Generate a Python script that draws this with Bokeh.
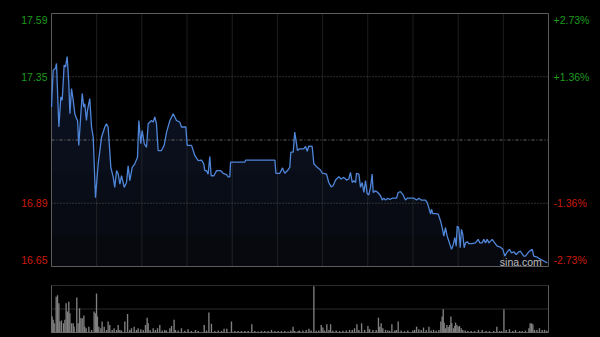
import numpy as np
from bokeh.plotting import figure
from bokeh.models import Range1d
from bokeh.core.properties import value
from bokeh.embed import file_html
from bokeh.resources import INLINE

# ---------------- data ----------------
prev_close = 17.12
max_pct = 2.73
left_labels = ["17.59", "17.35", "16.89", "16.65"]
right_labels = ["+2.73%", "+1.36%", "-1.36%", "-2.73%"]
session_minutes = 330          # 09:30-12:00 + 13:00-16:00
grid_minutes = [30, 60, 90, 120, 150, 180, 210, 240, 270, 300]

min_a = [0, 1.1, 2.7, 3.3, 4.9, 6.2, 7.1, 8.4, 9.3, 10.4, 11.5, 12.2, 13.3, 14.4, 15.5, 16.6,
         17.3, 18.1, 20.4, 21.4, 22.1, 23.2, 23.9, 25.4, 26.6, 27.7, 29.2, 31.0, 32.1, 33.2,
         35.4, 36.5, 37.6, 39.4, 41.0, 42.0, 43.2, 44.3, 45.4, 46.5, 48.3, 49.8, 50.9, 52.0,
         53.6, 55.3, 57.1, 58.0, 59.3, 60.2, 61.6, 63.1, 64.2, 66.4, 67.5, 68.6, 69.7, 70.8,
         73.0, 74.8, 76.4, 78.6, 80.8, 83.0]
px_a = [17.242, 17.378, 17.385, 17.403, 17.168, 17.279, 17.267, 17.397, 17.390, 17.428,
        17.329, 17.217, 17.310, 17.267, 17.217, 17.199, 17.192, 17.100, 17.292, 17.242,
        17.254, 17.192, 17.230, 17.273, 17.168, 17.130, 16.907, 17.032, 17.081, 17.130,
        17.168, 17.180, 17.168, 17.019, 16.982, 16.945, 17.007, 16.994, 16.957, 16.988,
        16.945, 16.963, 17.025, 16.970, 17.019, 17.032, 17.056, 17.192, 17.106, 17.155,
        17.106, 17.093, 17.180, 17.192, 17.186, 17.205, 17.180, 17.081, 17.081, 17.100,
        17.149, 17.192, 17.217, 17.192]

min_b = [85.2, 86.3, 89.2, 90.1, 93.0, 95.2, 97.4, 99.6, 101.1, 101.8, 102.9, 104.0, 105.1,
         106.0, 107.8, 109.6, 112.2, 114.0, 116.2, 117.3, 118.4, 118.9, 128.3, 129.0, 148.3,
         149.0, 151.6, 153.4, 154.9, 156.7, 158.2, 158.9, 160.5, 161.5, 162.7, 163.3, 164.5,
         166.0]
px_b = [17.186, 17.168, 17.168, 17.100, 17.100, 17.062, 17.044, 17.046, 17.032, 17.007,
        17.007, 16.994, 17.059, 16.988, 16.988, 17.007, 17.007, 16.997, 16.992, 16.984,
        16.984, 17.038, 17.038, 17.046, 17.046, 16.997, 16.997, 17.017, 16.997, 17.007,
        17.019, 17.075, 17.075, 17.149, 17.106, 17.081, 17.087, 17.087]

min_c = [167.5, 168.7, 169.8, 170.8, 173.1, 174.2, 176.4, 178.6, 179.7, 182.6, 184.1, 185.7,
         187.0, 188.6, 190.8, 192.3, 194.1, 195.9, 197.4, 198.5, 199.7, 200.7, 201.9, 202.5,
         204.1, 205.2, 206.3, 207.4, 208.5, 209.6, 210.7, 211.8, 212.9, 213.6, 215.1, 216.7,
         218.5, 219.6, 220.6, 221.8, 223.3, 224.6, 226.2, 229.1, 230.2, 231.7, 233.5, 235.0,
         236.2, 240.6, 242.4, 243.9, 245.5, 248.3]
px_c = [17.087, 17.096, 17.078, 17.097, 17.096, 17.032, 17.019, 17.009, 16.998, 16.994,
        16.963, 16.947, 16.951, 16.972, 16.984, 16.976, 16.982, 16.972, 16.976, 17.000,
        16.963, 16.970, 16.963, 16.997, 16.994, 16.945, 16.963, 16.926, 16.970, 16.922,
        16.917, 16.945, 16.994, 16.926, 16.932, 16.926, 16.914, 16.898, 16.905, 16.898,
        16.905, 16.900, 16.905, 16.905, 16.926, 16.929, 16.917, 16.898, 16.905, 16.905,
        16.898, 16.905, 16.898, 16.898]

min_d = [249.5, 250.5, 251.7, 252.3, 253.2, 255.0, 256.8, 258.3, 259.4, 260.5, 261.6, 262.7,
         263.8, 265.6, 266.5, 267.8, 268.7, 269.4, 270.4, 271.4, 272.2, 273.1, 274.0, 274.9,
         276.0, 277.1, 279.3, 281.5, 283.3, 284.4, 286.0, 287.0, 288.2, 289.3, 290.4, 292.6,
         294.3, 295.9, 298.1, 299.7, 301.0, 302.6, 304.1, 305.4, 307.0, 308.6, 310.3, 311.4,
         312.5, 313.6, 314.7, 316.9, 319.2, 320.2, 322.5, 324.7, 326.9, 329.2]
px_d = [16.889, 16.870, 16.846, 16.864, 16.848, 16.848, 16.846, 16.821, 16.796, 16.765,
        16.796, 16.765, 16.747, 16.716, 16.728, 16.759, 16.728, 16.802, 16.796, 16.722,
        16.790, 16.771, 16.722, 16.740, 16.744, 16.737, 16.737, 16.740, 16.753, 16.740,
        16.740, 16.753, 16.740, 16.753, 16.740, 16.753, 16.740, 16.728, 16.724, 16.716,
        16.691, 16.707, 16.716, 16.703, 16.707, 16.697, 16.707, 16.709, 16.699, 16.691,
        16.691, 16.707, 16.716, 16.691, 16.687, 16.679, 16.673, 16.666]

vol_min_a = [0.4, 1.1, 1.8, 3.1, 4.0, 4.9, 5.5, 6.6, 8.0, 8.9, 9.7, 10.6, 11.5, 12.2, 13.3,
             14.4, 15.0, 16.8, 17.7, 18.6, 19.5, 20.4, 21.5, 22.1, 23.0, 24.8, 26.6, 28.3,
             29.2, 29.9, 30.5, 31.4, 32.8, 33.6, 35.0, 36.5, 37.6, 38.7, 40.3, 41.6, 43.2,
             44.3, 45.4, 46.5, 48.7, 50.5, 52.0, 53.1, 54.9, 56.4, 57.5, 59.3, 60.9, 62.4,
             63.5, 64.2, 65.5, 67.5, 69.0, 70.4, 71.9, 73.5, 75.2, 76.3, 78.6, 79.7, 81.4,
             82.3, 84.1, 86.3, 88.5, 90.7, 92.9, 95.6, 97.4, 101.4, 102.9, 104.5, 106.2,
             108.4, 110.7, 112.9, 114.6, 116.4, 119.5, 121.7, 123.9, 126.1, 128.4, 130.6,
             133.0, 135.0, 137.2, 139.4, 141.6, 143.8, 146.1, 148.3, 150.5, 152.7, 154.9,
             157.1, 158.9, 160.4, 161.5, 163.8]
vol_a = [68, 54, 39, 152, 159, 124, 47, 51, 39, 54, 124, 89, 131, 82, 39,
         39, 25, 149, 39, 103, 61, 61, 72, 25, 18, 25, 11, 89,
         82, 166, 68, 25, 18, 47, 25, 11, 47, 32, 11, 18, 11,
         32, 11, 8, 47, 79, 11, 18, 25, 11, 18, 14, 11, 32,
         63, 39, 11, 18, 11, 18, 32, 8, 11, 8, 18, 28, 54,
         11, 8, 18, 7, 14, 6, 11, 6, 32, 8, 85, 37,
         6, 8, 6, 16, 16, 47, 6, 6, 6, 6, 6,
         35, 6, 4, 6, 6, 6, 11, 6, 6, 6, 6,
         4, 8, 25, 6, 6]

vol_min_b = [164.7, 166.9, 169.1, 170.9, 172.4, 174.2, 175.8, 177.5, 179.1, 180.2, 181.3,
             182.8, 184.2, 185.3, 186.8, 189.0, 191.3, 193.5, 195.7, 197.9, 199.7, 201.2,
             202.8, 204.1, 205.9, 207.9, 210.1, 211.2, 213.4, 215.6, 217.1, 218.0, 218.9,
             220.0, 221.8, 223.3, 224.5, 226.0, 227.8, 228.9, 230.2, 232.2, 234.4, 236.6,
             239.9, 241.1, 242.4, 243.9, 245.5, 247.0, 248.8, 250.6, 252.1, 253.7, 255.4,
             257.2, 258.5, 259.4, 260.1, 260.7, 261.6, 262.5, 263.4, 264.3, 265.2, 265.8,
             266.9, 267.8, 268.3, 269.2, 270.0, 270.9, 272.0, 273.1, 274.7, 276.5, 278.7,
             280.9, 283.5, 286.0, 288.6, 290.8, 293.7, 295.7, 297.5, 298.8, 300.4, 301.9,
             304.1, 306.3, 308.1, 310.8, 312.5, 314.7, 317.0, 317.8, 318.7, 319.6, 320.7,
             322.3, 324.0, 325.8, 327.4, 328.9]
vol_b = [8, 8, 11, 16, 8, 197, 7, 8, 32, 21, 8,
         35, 11, 35, 7, 8, 6, 7, 8, 11, 11, 18,
         35, 11, 39, 11, 28, 14, 11, 11, 63, 25, 39,
         18, 11, 8, 7, 35, 8, 11, 47, 8, 6, 8,
         8, 11, 25, 14, 11, 21, 11, 25, 8, 11, 7,
         11, 47, 68, 99, 42, 18, 32, 23, 32, 68, 39,
         18, 28, 42, 32, 25, 28, 18, 11, 8, 6, 6,
         6, 11, 11, 6, 6, 6, 25, 6, 6, 99, 11,
         14, 6, 11, 6, 6, 8, 18, 39, 39, 35, 11,
         11, 18, 11, 11, 7]
vol_top = 200

# ---------------- derived ----------------
minutes = np.array(min_a + min_b + min_c + min_d)
prices = np.array(px_a + px_b + px_c + px_d)
vol_minutes = vol_min_a + vol_min_b
volumes = vol_a + vol_b

y_top = prev_close * (1 + max_pct / 100)
y_bot = prev_close * (1 - max_pct / 100)
y_hi = prev_close * (1 + max_pct / 200)
y_lo = prev_close * (1 - max_pct / 200)
levels = [y_top, y_hi, y_lo, y_bot]
label_colors = ["#1b9a1b", "#1b9a1b", "#cc1a0a", "#cc1a0a"]
label_shift = [6, 0, 0, -7]      # keep the edge labels inside the chart box

FONT = "Liberation Sans"
W, H = 600, 337
PLOT_L, PLOT_R = 51, 548          # chart boxes' left/right edges (px)
PLOT_T, PLOT_B = 13, 266          # price box top/bottom (px)
VOL_T, VOL_B = 285, 332           # volume box top/bottom (px)

# ranges that place each box at its pixel position on one full-size canvas
mpp = session_minutes / (PLOT_R - PLOT_L)
x_range = Range1d(-PLOT_L * mpp, session_minutes + (W - PLOT_R) * mpp)
upp = (y_top - y_bot) / (PLOT_B - PLOT_T)
y_range = Range1d(y_bot - (H - PLOT_B) * upp, y_top + PLOT_T * upp)
vpp = vol_top / (VOL_B - VOL_T)
vol_range = Range1d(-(H - VOL_B) * vpp, vol_top + VOL_T * vpp)

p = figure(width=W, height=H, output_backend="svg", toolbar_location=None,
           x_range=x_range, y_range=y_range,
           min_border=0, min_border_left=0, min_border_right=0, min_border_top=0, min_border_bottom=0,
           background_fill_color="black", border_fill_color="black")
p.extra_y_ranges = {"vol": vol_range}
p.xaxis.visible = False
p.yaxis.visible = False
p.grid.visible = False
p.outline_line_color = None

# gradient-like area fill under the price line
p.varea(x=minutes, y1=np.full(len(prices), y_bot), y2=prices, fill_color="#07090e", fill_alpha=1.0)
for lv in np.linspace(y_bot, y_top, 9)[1:-1]:
    p.varea(x=minutes, y1=np.minimum(prices, lv), y2=prices, fill_color="#1c3050", fill_alpha=0.07)

# grid
p.segment(x0=grid_minutes, x1=grid_minutes, y0=[y_bot] * len(grid_minutes), y1=[y_top] * len(grid_minutes),
          line_color="#3a3a3a", line_width=1, line_dash="1 1")
p.segment(x0=[0, 0], x1=[session_minutes] * 2, y0=[y_hi, y_lo], y1=[y_hi, y_lo],
          line_color="#5a5a5a", line_width=1, line_dash="1 2")
p.segment(x0=[0], x1=[session_minutes], y0=[prev_close], y1=[prev_close],
          line_color="#6a6a6a", line_width=1, line_dash="3 2 1 2")

# price box
p.segment(x0=[0, session_minutes, 0, 0], x1=[0, session_minutes, session_minutes, session_minutes],
          y0=[y_bot, y_bot, y_top, y_bot], y1=[y_top, y_top, y_top, y_bot],
          line_color="#5c5c5c", line_width=1)

p.line(minutes, prices, line_color="#4f86d9", line_width=1.3)

p.text(x=[0] * 4, y=levels, text=left_labels, x_offset=-4, y_offset=label_shift,
       text_align="right", text_baseline="middle", text_color=label_colors,
       text_font=value(FONT), text_font_size="10.5px")
p.text(x=[session_minutes] * 4, y=levels, text=right_labels, x_offset=5, y_offset=label_shift,
       text_align="left", text_baseline="middle", text_color=label_colors,
       text_font=value(FONT), text_font_size="10.5px")
p.text(x=[297.7], y=[y_bot], text=["sina.com"], y_offset=-5,
       text_align="left", text_baseline="middle", text_color="#bbbbbb",
       text_font=value(FONT), text_font_size="10.5px")

# ---------------- volume panel ----------------
p.segment(x0=[0, 0], x1=[session_minutes] * 2, y0=[vol_top / 2, vol_top], y1=[vol_top / 2, vol_top],
          line_color="#555555", line_width=1, line_dash="1 1", y_range_name="vol")
p.segment(x0=[0, session_minutes, 0], x1=[0, session_minutes, session_minutes],
          y0=[0, 0, 0], y1=[vol_top, vol_top, 0], line_color="#5c5c5c", line_width=1,
          y_range_name="vol")
p.vbar(x=vol_minutes, top=volumes, width=0.9, fill_color="#808080", line_color=None,
       y_range_name="vol")

page_template = """
{% block preamble %}
<style>html, body { background: #000000; margin: 0; padding: 0; overflow: hidden; }</style>
{% endblock %}
"""
open("out.html", "w").write(file_html(p, INLINE, template=page_template))
